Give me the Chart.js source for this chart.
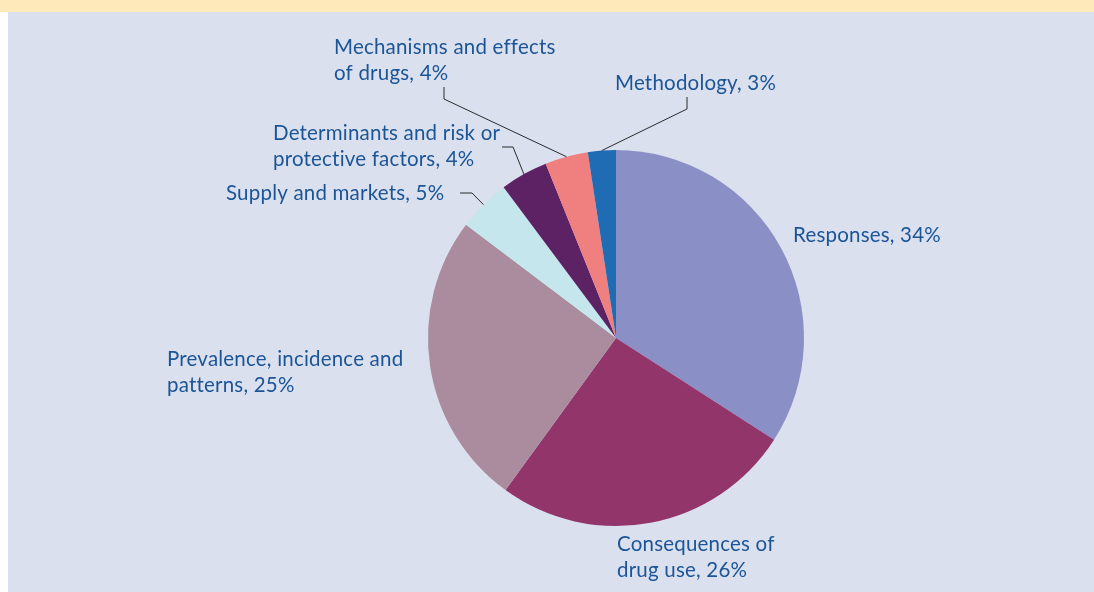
<!DOCTYPE html>
<html>
<head>
<meta charset="utf-8">
<script src="https://cdn.jsdelivr.net/npm/chart.js@4"></script>
<style>
  html, body { margin: 0; padding: 0; }
  body { width: 1094px; height: 592px; position: relative; background: #dbe0ef; overflow: hidden; }
  #band { position: absolute; left: 0; top: 0; width: 1094px; height: 12px; background: #fde9b9; }
  #strip { position: absolute; left: 0; top: 12px; width: 8px; height: 580px; background: #ffffff; }
  #wrap { position: absolute; left: 0; top: 0; width: 1094px; height: 592px; }
</style>
</head>
<body>
<div id="band"></div>
<div id="strip"></div>
<div id="wrap"><canvas id="c" width="1094" height="592"></canvas></div>
<script>
// Data (clockwise from 12 o'clock)
const categories = [
  "Responses",
  "Consequences of drug use",
  "Prevalence, incidence and patterns",
  "Supply and markets",
  "Determinants and risk or protective factors",
  "Mechanisms and effects of drugs",
  "Methodology"
];
const shares = [34.1, 25.9, 25.3, 4.5, 4.1, 3.7, 2.4];
const shareLabels = ["34%", "26%", "25%", "5%", "4%", "4%", "3%"];
const labelLines = [
  ["Responses, " + shareLabels[0]],
  ["Consequences of", "drug use, " + shareLabels[1]],
  ["Prevalence, incidence and", "patterns, " + shareLabels[2]],
  ["Supply and markets, " + shareLabels[3]],
  ["Determinants and risk or", "protective factors, " + shareLabels[4]],
  ["Mechanisms and effects", "of drugs, " + shareLabels[5]],
  ["Methodology, " + shareLabels[6]]
];
const sliceColors = ["#8a8fc5", "#92356a", "#aa8c9e", "#c5e6ec", "#5c2264", "#f07f7f", "#1f6cb4"];

// Layout of labels (pixel positions: left x, first baseline y) and leader elbows
const labelLayout = [
  { x: 793, y: 242 },
  { x: 617, y: 551 },
  { x: 167, y: 366 },
  { x: 226, y: 200, leader: [[472, 193], [460, 193]] },
  { x: 273, y: 140, leader: [[513, 147], [502, 147]] },
  { x: 334, y: 54,  leader: [[444, 99], [444, 87]] },
  { x: 615, y: 90,  leader: [[687, 109], [687, 97]] }
];
const lineHeight = 26;
const textColor = "#1b5596";
const fontSpec = "20.5px Lato";

const labelPlugin = {
  id: "sliceLabels",
  afterDraw(chart) {
    const ctx = chart.ctx;
    const meta = chart.getDatasetMeta(0);
    ctx.save();
    // leaders
    ctx.strokeStyle = "#2a2a2a";
    ctx.lineWidth = 1;
    meta.data.forEach((arc, i) => {
      const lay = labelLayout[i];
      if (!lay.leader) return;
      const p = arc.getProps(["x", "y", "startAngle", "endAngle", "outerRadius"], true);
      const mid = (p.startAngle + p.endAngle) / 2;
      const sx = p.x + p.outerRadius * Math.cos(mid);
      const sy = p.y + p.outerRadius * Math.sin(mid);
      ctx.beginPath();
      ctx.moveTo(sx, sy);
      lay.leader.forEach(pt => ctx.lineTo(pt[0], pt[1]));
      ctx.stroke();
    });
    // texts
    ctx.fillStyle = textColor;
    ctx.font = fontSpec;
    if ("letterSpacing" in ctx) ctx.letterSpacing = "0.2px";
    ctx.textAlign = "left";
    ctx.textBaseline = "alphabetic";
    labelLines.forEach((lines, i) => {
      const lay = labelLayout[i];
      lines.forEach((t, j) => ctx.fillText(t, lay.x, lay.y + j * lineHeight));
    });
    ctx.restore();
  }
};

new Chart(document.getElementById("c"), {
  type: "pie",
  data: {
    labels: categories,
    datasets: [{
      data: shares,
      backgroundColor: sliceColors,
      borderWidth: 0
    }]
  },
  options: {
    responsive: false,
    animation: false,
    layout: { padding: { left: 428, right: 290, top: 150, bottom: 66 } },
    plugins: {
      legend: { display: false },
      tooltip: { enabled: false },
      title: { display: false }
    }
  },
  plugins: [labelPlugin]
});
</script>
</body>
</html>
